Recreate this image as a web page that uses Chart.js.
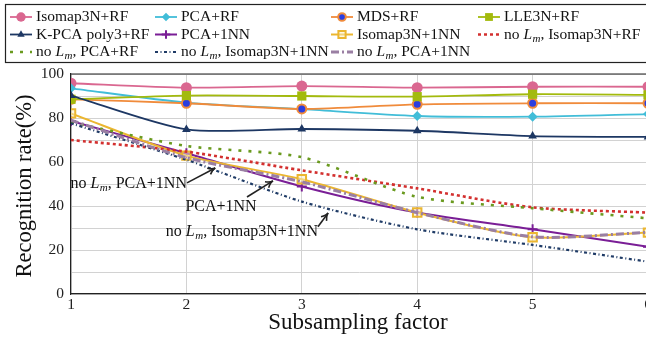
<!DOCTYPE html>
<html><head><meta charset="utf-8">
<script src="https://cdn.jsdelivr.net/npm/chart.js@4/dist/chart.umd.min.js"></script>
<style>html,body{margin:0;padding:0;overflow:hidden;background:#fff}#wrap{width:646px;height:338px;overflow:hidden}canvas{display:block}</style>
</head><body><div id="wrap"><canvas id="c" width="660" height="338"></canvas></div>
<script>
// ---- data ----
const subsamplingFactors = [1, 2, 3, 4, 5, 6];
const isomapRF      = [95.8, 93.8, 94.5, 93.8, 94.2, 94.2];
const pcaRF         = [93.5, 87.0, 84.0, 80.9, 80.6, 81.8];
const mdsRF         = [88.5, 86.7, 84.1, 86.2, 86.7, 86.7];
const lleRF         = [88.5, 90.2, 90.0, 89.7, 90.8, 90.5];
const kpcaRF        = [90.2, 74.8, 75.0, 74.2, 71.8, 71.4];
const pca1NN        = [78.6, 64.0, 48.9, 37.0, 29.4, 21.5];
const isomap1NN     = [82.1, 62.9, 52.2, 37.0, 25.8, 27.9];
const noLmPcaRF     = [78.0, 67.3, 62.2, 44.2, 39.0, 34.4];
const noLmIsomapRF  = [70.0, 64.7, 56.2, 48.0, 39.4, 37.0];
const noLmIsomap1NN = [77.6, 61.0, 42.0, 29.4, 22.3, 14.7];
const noLmPca1NN    = [79.0, 62.0, 51.0, 37.0, 26.0, 28.0];
const yTickLabels = [0, 20, 40, 60, 80, 100];
const xTickLabels = [1, 2, 3, 4, 5, 6];

// annotations in data units
const annotations = [
  {text: ['no ', {i:'L'}, {s:'m'}, ', PCA+1NN'], tx: 2.005, ty: 50.3, align: 'right', from: [2.005, 50.5], to: [2.25, 57.3]},
  {text: ['PCA+1NN'], tx: 2.30, ty: 39.6, align: 'center', from: [2.525, 44.1], to: [2.75, 51.4]},
  {text: ['no ', {i:'L'}, {s:'m'}, ', Isomap3N+1NN'], tx: 3.14, ty: 28.4, align: 'right', from: [3.14, 30.6], to: [3.228, 36.8]}
];

const FAM = '"Liberation Serif", "DejaVu Serif", serif';

function mk(label, rich, data, color, extra) {
  return Object.assign({
    label, rich,
    data: data.map((v, i) => ({x: subsamplingFactors[i], y: v})),
    borderColor: color, backgroundColor: color,
    borderWidth: 1.8, tension: 0.25, pointRadius: 0, pointHoverRadius: 0,
    fill: false, borderCapStyle: 'butt'
  }, extra || {});
}

const datasets = [
  mk('Isomap3N+RF', ['Isomap3N+RF'], isomapRF, '#da6790', {pointStyle: 'circle', pointRadius: 5.5, pointBorderWidth: 0}),
  mk('PCA+RF', ['PCA+RF'], pcaRF, '#41bdd8', {pointStyle: 'rectRot', pointRadius: 5, pointBorderWidth: 0}),
  mk('MDS+RF', ['MDS+RF'], mdsRF, '#f08b3b', {pointStyle: 'circle', pointRadius: 4.5, pointBorderWidth: 2, pointBackgroundColor: '#2a3ee0', pointBorderColor: '#f08b3b'}),
  mk('LLE3N+RF', ['LLE3N+RF'], lleRF, '#a3ba0d', {pointStyle: 'rect', pointRadius: 6.5, pointBorderWidth: 0}),
  mk('K-PCA poly3+RF', ['K-PCA poly3+RF'], kpcaRF, '#1d3763', {pointStyle: 'triangle', pointRadius: 5, pointBorderWidth: 0}),
  mk('PCA+1NN', ['PCA+1NN'], pca1NN, '#7a1e96', {borderWidth: 2, pointStyle: 'cross', pointRadius: 5, pointBorderWidth: 2}),
  mk('Isomap3N+1NN', ['Isomap3N+1NN'], isomap1NN, '#ebb630', {borderWidth: 2, pointStyle: 'rect', pointRadius: 6, pointBorderWidth: 2, pointBackgroundColor: 'rgba(250,240,200,0.5)', pointBorderColor: '#ebb630'}),
  mk('no Lm, Isomap3N+RF', ['no ', {i:'L'}, {s:'m'}, ', Isomap3N+RF'], noLmIsomapRF, '#d3302f', {borderWidth: 2.6, borderDash: [3, 3]}),
  mk('no Lm, PCA+RF', ['no ', {i:'L'}, {s:'m'}, ', PCA+RF'], noLmPcaRF, '#6a9a1f', {borderWidth: 2.6, borderDash: [3, 7]}),
  mk('no Lm, Isomap3N+1NN', ['no ', {i:'L'}, {s:'m'}, ', Isomap3N+1NN'], noLmIsomap1NN, '#1f3b66', {borderWidth: 2.2, borderDash: [3, 2.5, 1, 2.5]}),
  mk('no Lm, PCA+1NN', ['no ', {i:'L'}, {s:'m'}, ', PCA+1NN'], noLmPca1NN, '#9a7fa3', {borderWidth: 3, borderDash: [8, 3, 2, 3]})
];
datasets.forEach((d, i) => d.order = datasets.length - i);

// legend layout: row-major order of entries
const legendOrder = ['Isomap3N+RF','PCA+RF','MDS+RF','LLE3N+RF','K-PCA poly3+RF','PCA+1NN','Isomap3N+1NN','no Lm, Isomap3N+RF','no Lm, PCA+RF','no Lm, Isomap3N+1NN','no Lm, PCA+1NN'];
const legendCols = [10, 155, 331, 478];
const legendRows = [17, 34.5, 52];

function richWidth(ctx, segs, size) {
  let w = 0;
  segs.forEach(s => {
    if (typeof s === 'string') { ctx.font = size + 'px ' + FAM; w += ctx.measureText(s).width; }
    else if (s.i) { ctx.font = 'italic ' + size + 'px ' + FAM; w += ctx.measureText(s.i).width + 0.5; }
    else if (s.s) { ctx.font = 'italic ' + Math.round(size * 0.7) + 'px ' + FAM; w += ctx.measureText(s.s).width; }
  });
  return w;
}
function drawRich(ctx, segs, x, y, size, align) {
  const w = richWidth(ctx, segs, size);
  let cx = align === 'right' ? x - w : align === 'center' ? x - w / 2 : x;
  ctx.textAlign = 'left'; ctx.textBaseline = 'middle'; ctx.fillStyle = '#111';
  segs.forEach(s => {
    if (typeof s === 'string') { ctx.font = size + 'px ' + FAM; ctx.fillText(s, cx, y); cx += ctx.measureText(s).width; }
    else if (s.i) { ctx.font = 'italic ' + size + 'px ' + FAM; ctx.fillText(s.i, cx, y); cx += ctx.measureText(s.i).width + 0.5; }
    else if (s.s) { ctx.font = 'italic ' + Math.round(size * 0.7) + 'px ' + FAM; ctx.fillText(s.s, cx, y + size * 0.28); cx += ctx.measureText(s.s).width; }
  });
}

const decor = {
  id: 'decor',
  afterDatasetsDraw(chart) {
    const ctx = chart.ctx, a = chart.chartArea, xs = chart.scales.x, ys = chart.scales.y;
    ctx.save();
    ctx.strokeStyle = '#222'; ctx.lineWidth = 1.2;
    ctx.beginPath(); ctx.moveTo(a.left, a.top); ctx.lineTo(a.right, a.top); ctx.stroke();
    annotations.forEach(an => {
      drawRich(ctx, an.text, xs.getPixelForValue(an.tx), ys.getPixelForValue(an.ty), 16, an.align);
      const x0 = xs.getPixelForValue(an.from[0]), y0 = ys.getPixelForValue(an.from[1]);
      const x1 = xs.getPixelForValue(an.to[0]), y1 = ys.getPixelForValue(an.to[1]);
      ctx.strokeStyle = '#222'; ctx.lineWidth = 1.6; ctx.setLineDash([]);
      ctx.beginPath(); ctx.moveTo(x0, y0); ctx.lineTo(x1, y1); ctx.stroke();
      const ang = Math.atan2(y1 - y0, x1 - x0), L = 8;
      ctx.beginPath();
      ctx.moveTo(x1 - L * Math.cos(ang - 0.45), y1 - L * Math.sin(ang - 0.45));
      ctx.quadraticCurveTo(x1 - 3 * Math.cos(ang), y1 - 3 * Math.sin(ang), x1, y1);
      ctx.quadraticCurveTo(x1 - 3 * Math.cos(ang), y1 - 3 * Math.sin(ang), x1 - L * Math.cos(ang + 0.45), y1 - L * Math.sin(ang + 0.45));
      ctx.stroke();
    });
    ctx.restore();
  },
  afterDraw(chart) {
    const ctx = chart.ctx;
    ctx.save();
    ctx.fillStyle = '#111'; ctx.textAlign = 'center'; ctx.textBaseline = 'middle';
    ctx.font = '23px ' + FAM;
    ctx.fillText('Subsampling factor', 358, 323);
    ctx.translate(25, 186); ctx.rotate(-Math.PI / 2);
    ctx.font = '22.5px ' + FAM;
    ctx.fillText('Recognition rate(%)', 0, 0);
    ctx.setTransform(1, 0, 0, 1, 0, 0);
    ctx.fillStyle = '#fff'; ctx.strokeStyle = '#222'; ctx.lineWidth = 1.2;
    ctx.fillRect(5.5, 4.5, 700, 58); ctx.strokeRect(5.5, 4.5, 700, 58);
    legendOrder.forEach((lab, k) => {
      const d = chart.data.datasets.find(q => q.label === lab);
      const cx = legendCols[k % 4], cy = legendRows[Math.floor(k / 4)];
      ctx.save();
      ctx.strokeStyle = d.borderColor; ctx.lineWidth = d.borderWidth; ctx.lineCap = 'butt';
      ctx.setLineDash(d.borderDash || []);
      ctx.beginPath(); ctx.moveTo(cx, cy); ctx.lineTo(cx + 22, cy); ctx.stroke();
      ctx.setLineDash([]);
      if (d.pointRadius > 0) {
        ctx.fillStyle = d.pointBackgroundColor || d.backgroundColor;
        ctx.strokeStyle = d.pointBorderColor || d.borderColor;
        ctx.lineWidth = d.pointBorderWidth || 0;
        Chart.helpers.drawPoint(ctx, {pointStyle: d.pointStyle, radius: d.pointRadius * 0.85, borderWidth: d.pointBorderWidth || 0, rotation: 0}, cx + 11, cy);
      }
      ctx.restore();
      drawRich(ctx, d.rich, cx + 26, cy, 15.5, 'left');
    });
    ctx.restore();
  }
};

new Chart(document.getElementById('c'), {
  type: 'line',
  data: {datasets},
  options: {
    responsive: false, animation: false, devicePixelRatio: 1,
    layout: {padding: {top: 74, right: 12, left: 0, bottom: 0}},
    plugins: {legend: {display: false}, tooltip: {enabled: false}},
    scales: {
      x: {
        type: 'linear', min: 1, max: 6,
        ticks: {stepSize: 1, color: '#222', font: {family: FAM, size: 15.5}, padding: 2,
          callback: v => xTickLabels.includes(v) ? String(v) : ''},
        grid: {color: '#d2d2d2', drawTicks: false, lineWidth: 1},
        border: {color: '#222', width: 1.2},
        afterFit(s) { s.height = 44; }
      },
      y: {
        min: 0, max: 100,
        ticks: {stepSize: 10, color: '#222', font: {family: FAM, size: 15.5}, padding: 7,
          callback: v => yTickLabels.includes(v) ? String(v) : ''},
        grid: {color: '#d2d2d2', drawTicks: false, lineWidth: 1},
        border: {color: '#222', width: 1.2},
        afterFit(s) { s.width = 71; }
      }
    }
  },
  plugins: [decor]
});
</script></body></html>
